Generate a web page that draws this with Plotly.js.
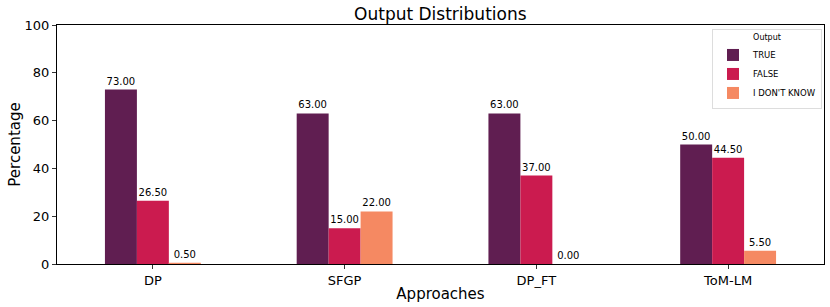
<!DOCTYPE html>
<html><head><meta charset="utf-8">
<script src="https://cdn.plot.ly/plotly-3.0.1.min.js"></script>
<style>html,body{margin:0;padding:0;background:#fff;}#chart{width:830px;height:307px;}</style>
</head><body><div id="chart"></div>
<script>
const categories = ["DP", "SFGP", "DP_FT", "ToM-LM"];
const trueVals = [73.0, 63.0, 63.0, 50.0];
const falseVals = [26.5, 15.0, 37.0, 44.5];
const idkVals = [0.5, 22.0, 0.0, 5.5];
const seriesNames = ["TRUE", "FALSE", "I DON'T KNOW"];
const colors = ["#601e51", "#cb1b4f", "#f58962"];
const yTicks = [0, 20, 40, 60, 80, 100];

const font = "DejaVu Sans, sans-serif";
const all = [trueVals, falseVals, idkVals];
const traces = all.map((vals, i) => ({
  type: "bar",
  x: categories,
  y: vals,
  name: seriesNames[i],
  marker: {color: colors[i], line: {width: 0}},
  text: vals.map(v => v.toFixed(2)),
  textposition: "outside",
  constraintext: "none",
  cliponaxis: false,
  textfont: {family: font, size: 10, color: "#000"},
  hoverinfo: "none"
}));

const layout = {
  width: 830, height: 307,
  margin: {l: 57, r: 6, t: 25, b: 43, autoexpand: false},
  paper_bgcolor: "#fff", plot_bgcolor: "#fff",
  font: {family: font, color: "#000"},
  barmode: "group", bargap: 0.5, bargroupgap: 0,
  title: {text: "Output Distributions", font: {family: font, size: 17, color: "#000"}, x: 0.5305, xanchor: "center", y: 0.955, yanchor: "middle"},
  xaxis: {
    title: {text: "Approaches", font: {family: font, size: 15}, standoff: 1},
    range: [-0.5, 3.5],
    showline: true, mirror: true, linecolor: "#000", linewidth: 1,
    ticks: "outside", ticklen: 4, tickcolor: "#333",
    tickfont: {family: font, size: 13},
    showgrid: false, zeroline: false, automargin: false
  },
  yaxis: {
    title: {text: "Percentage", font: {family: font, size: 15}, standoff: 0},
    range: [0, 100], tickvals: yTicks,
    showline: true, mirror: true, linecolor: "#000", linewidth: 1,
    ticks: "outside", ticklen: 4, tickcolor: "#333",
    tickfont: {family: font, size: 13},
    showgrid: false, zeroline: false, automargin: false
  },
  legend: {
    x: 0.9974, y: 0.983, xanchor: "right", yanchor: "top",
    bgcolor: "rgba(255,255,255,0.8)", bordercolor: "#ddd", borderwidth: 1,
    font: {family: font, size: 8.5},
    title: {text: "Output", side: "top center", font: {family: font, size: 8}},
    tracegroupgap: 0, itemwidth: 30
  },
  showlegend: true
};
Plotly.newPlot("chart", traces, layout, {displayModeBar: false, staticPlot: true});
</script></body></html>
